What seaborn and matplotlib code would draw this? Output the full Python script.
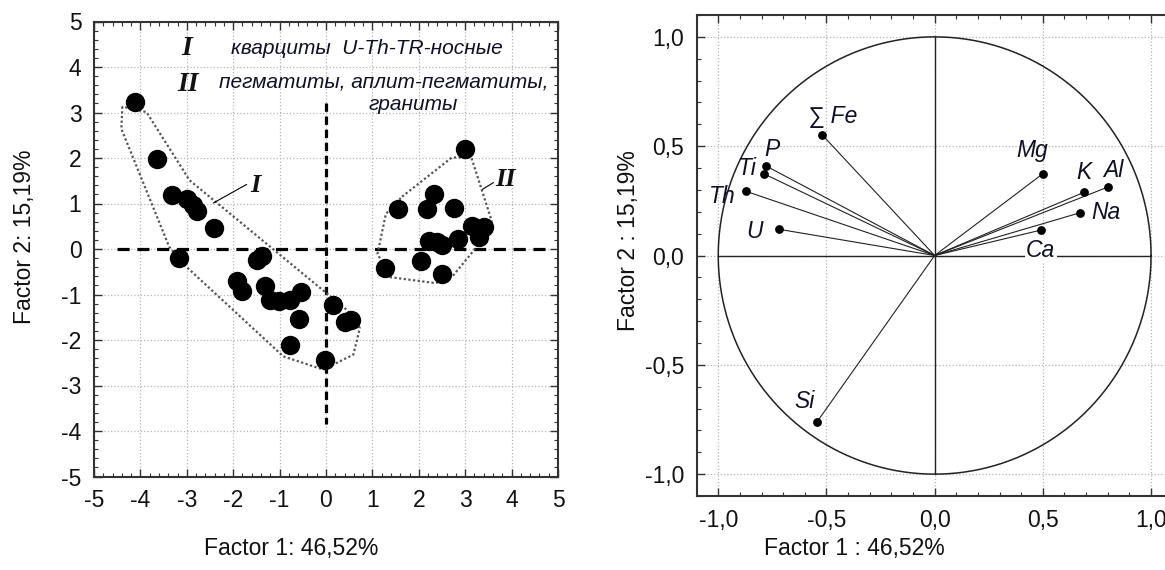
import numpy as np
import pandas as pd
import matplotlib
matplotlib.use("Agg")
import matplotlib.pyplot as plt
import seaborn as sns
from matplotlib.ticker import MultipleLocator, FixedLocator, FuncFormatter

# ---------------- data: left panel (factor scores) ----------------
score_f1_I = [-4.12, -3.64, -3.31, -2.99, -2.86, -2.78, -2.42, -3.17, -1.48, -1.37,
              -1.91, -1.81, -1.32, -1.21, -1.01, -0.78, -0.54, -0.58, -0.78, -0.02,
              0.16, 0.42, 0.53]
score_f2_I = [3.23, 1.97, 1.18, 1.09, 0.96, 0.84, 0.47, -0.20, -0.24, -0.15,
              -0.70, -0.93, -0.82, -1.12, -1.14, -1.12, -0.95, -1.54, -2.10, -2.43,
              -1.23, -1.61, -1.57]
score_f1_II = [2.99, 1.56, 2.33, 2.18, 2.75, 3.14, 3.41, 3.29, 2.84, 2.23, 2.39, 2.50,
               1.27, 2.04, 2.50]
score_f2_II = [2.20, 0.88, 1.20, 0.88, 0.91, 0.51, 0.49, 0.27, 0.22, 0.18, 0.15, 0.09,
               -0.42, -0.27, -0.56]

hull_I_f1 = [-4.39, -4.41, -3.38, -3.01, -0.92, -0.06, 0.59, 0.73, 0.45, 0.01, -2.94, -3.87]
hull_I_f2 = [3.13, 2.64, 0.05, -0.39, -2.36, -2.65, -2.32, -1.74, -1.34, -0.97, 1.51, 3.01]
hull_II_f1 = [1.64, 2.71, 3.13, 3.57, 3.18, 2.71, 2.36, 1.39, 1.11, 1.29]
hull_II_f2 = [1.15, 2.01, 2.02, 0.62, -0.04, -0.62, -0.75, -0.62, -0.11, 0.77]

left_ticks = [-5, -4, -3, -2, -1, 0, 1, 2, 3, 4, 5]
legend_roman = ["I", "II"]
legend_text = ["кварциты  U-Th-TR-носные", "пегматиты, аплит-пегматиты,", "граниты"]

# ---------------- data: right panel (factor loadings) ----------------
elements = ["∑ Fe", "P", "Ti", "Th", "U", "Mg", "K", "Al", "Na", "Ca", "Si"]
load_f1 = [-0.52, -0.78, -0.79, -0.87, -0.72, 0.50, 0.69, 0.80, 0.67, 0.49, -0.545]
load_f2 = [0.552, 0.41, 0.374, 0.293, 0.12, 0.374, 0.289, 0.313, 0.195, 0.116, -0.763]
right_ticks = [-1.0, -0.5, 0.0, 0.5, 1.0]

# label offsets (pixels) for the loading labels
label_dx = [-14, 6, -16, -24, -24, -11, 0, 6, 26, 0, -12]
label_dy = [18, 16, 5, -5, -2, 23, 20, 17, 0, -20, 21]
label_ha = ["left", "center", "center", "center", "center", "center", "center",
            "center", "center", "center", "center"]

sns.set_theme(style="ticks")
plt.rcParams["font.family"] = ["Liberation Sans", "DejaVu Sans"]
plt.rcParams["axes.unicode_minus"] = False

fig = plt.figure(figsize=(11.65, 5.70), dpi=100)
axL = fig.add_axes([94 / 1165, 1 - 476.5 / 570, 464 / 1165, 455 / 570])
axR = fig.add_axes([696.6 / 1165, 1 - 496 / 570, 476.1 / 1165, 481 / 570])

comma = FuncFormatter(lambda v, p: f"{v:.1f}".replace(".", ","))
intfmt = FuncFormatter(lambda v, p: f"{int(round(v))}")

for ax in (axL, axR):
    for s in ax.spines.values():
        s.set_color("#333333")
        s.set_linewidth(1.5)
    ax.tick_params(which="both", direction="in", top=True, right=True,
                   colors="#333333", labelcolor="#111111", labelsize=16.5)
    ax.tick_params(which="major", length=6, width=1.0, pad=9)
    ax.tick_params(which="minor", length=3, width=0.8)
    ax.grid(True, which="major", color="#b5b5b5", linestyle=":", linewidth=0.9)
    ax.set_axisbelow(True)

# ---------------- left panel ----------------
axL.set_xlim(-5, 5)
axL.set_ylim(-5, 5)
axL.xaxis.set_major_locator(FixedLocator(left_ticks))
axL.yaxis.set_major_locator(FixedLocator(left_ticks))
axL.xaxis.set_minor_locator(MultipleLocator(0.2))
axL.yaxis.set_minor_locator(MultipleLocator(0.2))
axL.xaxis.set_major_formatter(intfmt)
axL.yaxis.set_major_formatter(intfmt)

# dashed axes through origin
axL.plot([-4.5, 4.75], [0, 0], color="black", lw=2.3, linestyle=(0, (3.8, 2.4)), zorder=2)
axL.plot([0, 0], [3.2, -3.85], color="black", lw=2.3, linestyle=(0, (2.6, 1.5)), zorder=2)

# hulls
hI = pd.DataFrame({"x": hull_I_f1 + hull_I_f1[:1], "y": hull_I_f2 + hull_I_f2[:1]})
hII = pd.DataFrame({"x": hull_II_f1 + hull_II_f1[:1], "y": hull_II_f2 + hull_II_f2[:1]})
axL.plot(hI["x"], hI["y"], color="#555555", lw=1.6, linestyle=(0, (1, 1.1)), zorder=3)
axL.plot(hII["x"], hII["y"], color="#555555", lw=1.6, linestyle=(0, (1, 1.1)), zorder=3)

scores = pd.DataFrame({
    "f1": score_f1_I + score_f1_II,
    "f2": score_f2_I + score_f2_II,
})
sns.scatterplot(data=scores, x="f1", y="f2", ax=axL, color="black", s=195,
                edgecolor="black", linewidth=0, zorder=5, legend=False)

serif = dict(family="Liberation Serif", weight="bold", style="italic", color="#111111")
axL.text(-3.0, 4.41, legend_roman[0], fontsize=20, ha="center", va="center", **serif)
axL.text(-2.97, 3.62, legend_roman[1], fontsize=20, ha="center", va="center", **serif)
axL.text(-2.05, 4.41, legend_text[0], fontsize=15, style="italic", ha="left",
         va="center", color="#101025")
axL.text(-2.3, 3.66, legend_text[1], fontsize=15, style="italic", ha="left",
         va="center", color="#101025")
axL.text(1.88, 3.17, legend_text[2], fontsize=15, style="italic", ha="center",
         va="center", color="#101025")

# hull labels with leaders
axL.plot([-2.43, -1.71], [1.01, 1.42], color="black", lw=0.8, zorder=4)
axL.text(-1.53, 1.40, legend_roman[0], fontsize=19, ha="center", va="center", **serif)
axL.plot([3.37, 3.61], [1.31, 1.46], color="black", lw=0.8, zorder=4)
axL.text(3.86, 1.53, legend_roman[1], fontsize=19, ha="center", va="center", **serif)

axL.set_xlabel("Factor 1: 46,52%", fontsize=16.5, color="#111111")
axL.set_ylabel("Factor 2: 15,19%", fontsize=16.5, color="#111111")
axL.xaxis.set_label_coords((291 - 94) / 464, -0.132)
axL.yaxis.set_label_coords((36 - 94) / 464, 0.526)

# ---------------- right panel ----------------
axR.set_xlim(-1.1, 1.1)
axR.set_ylim(-1.1, 1.1)
axR.xaxis.set_major_locator(FixedLocator(right_ticks))
axR.yaxis.set_major_locator(FixedLocator(right_ticks))
axR.xaxis.set_minor_locator(MultipleLocator(0.1))
axR.yaxis.set_minor_locator(MultipleLocator(0.1))
axR.xaxis.set_major_formatter(comma)
axR.yaxis.set_major_formatter(comma)

theta = np.linspace(0, 2 * np.pi, 721)
axR.plot(np.cos(theta), np.sin(theta), color="#222222", lw=1.1, zorder=2)
axR.plot([-1, 1], [0, 0], color="#222222", lw=1.0, zorder=2)
axR.plot([0, 0], [-1, 1], color="#222222", lw=1.0, zorder=2)

loads = pd.DataFrame({"element": elements, "f1": load_f1, "f2": load_f2})
for x, y in zip(loads["f1"], loads["f2"]):
    axR.plot([0, x], [0, y], color="#222222", lw=0.8, zorder=3)
sns.scatterplot(data=loads, x="f1", y="f2", ax=axR, color="black", s=40,
                edgecolor="black", linewidth=0, zorder=5, legend=False)

for i, row in loads.iterrows():
    bbox = None
    if row["element"] == "Ca":
        bbox = dict(facecolor="white", edgecolor="none", pad=1.0)
    axR.annotate(row["element"], (row["f1"], row["f2"]), xytext=(label_dx[i], label_dy[i]),
                 textcoords="offset pixels", ha=label_ha[i], va="center",
                 fontsize=16.5, style="italic", color="#101025", bbox=bbox, zorder=6)

axR.set_xlabel("Factor 1 : 46,52%", fontsize=16.5, color="#111111")
axR.set_ylabel("Factor 2 : 15,19%", fontsize=16.5, color="#111111")
axR.xaxis.set_label_coords((854 - 696.6) / 476.1, -0.085)
axR.yaxis.set_label_coords((640 - 696.6) / 476.1, 0.532)

fig.savefig("out.png", dpi=100)
